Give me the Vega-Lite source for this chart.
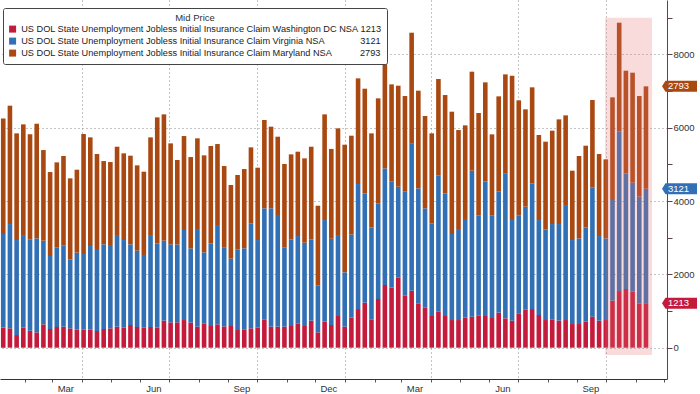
{
  "$schema": "https://vega.github.io/schema/vega-lite/v6.json",
  "width": 667,
  "height": 379,
  "autosize": {"type": "none"},
  "padding": {"left": 0, "top": 0, "right": 33, "bottom": 15},
  "background": "white",
  "config": {
    "view": {"stroke": null},
    "font": "Liberation Sans",
    "legend": {"labelFont": "Liberation Sans", "titleFont": "Liberation Sans"},
    "axis": {"labelFont": "Liberation Sans"}
  },
  "datasets": {
    "claims": [
      {"d": "2024-01-06", "Washington": 550, "Virginia": 2550, "Maryland": 3150},
      {"d": "2024-01-13", "Washington": 527, "Virginia": 2845, "Maryland": 3228},
      {"d": "2024-01-20", "Washington": 345, "Virginia": 2591, "Maryland": 2909},
      {"d": "2024-01-27", "Washington": 545, "Virginia": 2527, "Maryland": 3018},
      {"d": "2024-02-03", "Washington": 464, "Virginia": 2490, "Maryland": 2864},
      {"d": "2024-02-10", "Washington": 418, "Virginia": 2563, "Maryland": 3127},
      {"d": "2024-02-17", "Washington": 636, "Virginia": 2282, "Maryland": 2472},
      {"d": "2024-02-24", "Washington": 509, "Virginia": 1991, "Maryland": 2290},
      {"d": "2024-03-02", "Washington": 564, "Virginia": 2163, "Maryland": 2327},
      {"d": "2024-03-09", "Washington": 573, "Virginia": 2209, "Maryland": 2445},
      {"d": "2024-03-16", "Washington": 527, "Virginia": 1882, "Maryland": 2209},
      {"d": "2024-03-23", "Washington": 491, "Virginia": 2100, "Maryland": 2263},
      {"d": "2024-03-30", "Washington": 491, "Virginia": 2063, "Maryland": 3273},
      {"d": "2024-04-06", "Washington": 491, "Virginia": 2281, "Maryland": 2964},
      {"d": "2024-04-13", "Washington": 455, "Virginia": 2236, "Maryland": 2590},
      {"d": "2024-04-20", "Washington": 509, "Virginia": 2309, "Maryland": 2272},
      {"d": "2024-04-27", "Washington": 527, "Virginia": 2273, "Maryland": 2263},
      {"d": "2024-05-04", "Washington": 573, "Virginia": 2499, "Maryland": 2409},
      {"d": "2024-05-11", "Washington": 545, "Virginia": 2391, "Maryland": 2364},
      {"d": "2024-05-18", "Washington": 618, "Virginia": 2200, "Maryland": 2418},
      {"d": "2024-05-25", "Washington": 564, "Virginia": 2081, "Maryland": 2327},
      {"d": "2024-06-01", "Washington": 545, "Virginia": 1982, "Maryland": 2273},
      {"d": "2024-06-08", "Washington": 564, "Virginia": 2508, "Maryland": 2664},
      {"d": "2024-06-15", "Washington": 545, "Virginia": 2300, "Maryland": 3436},
      {"d": "2024-06-22", "Washington": 736, "Virginia": 2182, "Maryland": 3445},
      {"d": "2024-06-29", "Washington": 691, "Virginia": 2127, "Maryland": 2754},
      {"d": "2024-07-06", "Washington": 691, "Virginia": 2127, "Maryland": 2300},
      {"d": "2024-07-13", "Washington": 754, "Virginia": 2455, "Maryland": 2563},
      {"d": "2024-07-20", "Washington": 682, "Virginia": 2027, "Maryland": 2490},
      {"d": "2024-07-27", "Washington": 573, "Virginia": 2663, "Maryland": 2473},
      {"d": "2024-08-03", "Washington": 664, "Virginia": 1936, "Maryland": 2645},
      {"d": "2024-08-10", "Washington": 591, "Virginia": 2254, "Maryland": 2655},
      {"d": "2024-08-17", "Washington": 636, "Virginia": 2709, "Maryland": 2209},
      {"d": "2024-08-24", "Washington": 580, "Virginia": 2160, "Maryland": 2214},
      {"d": "2024-08-31", "Washington": 591, "Virginia": 1836, "Maryland": 2009},
      {"d": "2024-09-07", "Washington": 482, "Virginia": 2200, "Maryland": 2027},
      {"d": "2024-09-14", "Washington": 500, "Virginia": 2209, "Maryland": 2163},
      {"d": "2024-09-21", "Washington": 527, "Virginia": 2864, "Maryland": 2072},
      {"d": "2024-09-28", "Washington": 545, "Virginia": 2391, "Maryland": 1973},
      {"d": "2024-10-05", "Washington": 773, "Virginia": 3027, "Maryland": 2409},
      {"d": "2024-10-12", "Washington": 573, "Virginia": 3227, "Maryland": 2227},
      {"d": "2024-10-19", "Washington": 573, "Virginia": 3045, "Maryland": 2136},
      {"d": "2024-10-26", "Washington": 573, "Virginia": 2154, "Maryland": 2282},
      {"d": "2024-11-02", "Washington": 591, "Virginia": 2363, "Maryland": 2318},
      {"d": "2024-11-09", "Washington": 664, "Virginia": 2381, "Maryland": 2300},
      {"d": "2024-11-16", "Washington": 591, "Virginia": 2272, "Maryland": 2300},
      {"d": "2024-11-23", "Washington": 736, "Virginia": 2218, "Maryland": 2527},
      {"d": "2024-11-30", "Washington": 418, "Virginia": 1273, "Maryland": 2181},
      {"d": "2024-12-07", "Washington": 709, "Virginia": 2772, "Maryland": 2882},
      {"d": "2024-12-14", "Washington": 618, "Virginia": 2352, "Maryland": 2450},
      {"d": "2024-12-21", "Washington": 864, "Virginia": 2208, "Maryland": 2909},
      {"d": "2024-12-28", "Washington": 573, "Virginia": 1481, "Maryland": 3482},
      {"d": "2025-01-04", "Washington": 818, "Virginia": 2272, "Maryland": 2691},
      {"d": "2025-01-11", "Washington": 1054, "Virginia": 3409, "Maryland": 2882},
      {"d": "2025-01-18", "Washington": 1227, "Virginia": 2982, "Maryland": 2854},
      {"d": "2025-01-25", "Washington": 773, "Virginia": 2508, "Maryland": 2564},
      {"d": "2025-02-01", "Washington": 1327, "Virginia": 2609, "Maryland": 2864},
      {"d": "2025-02-08", "Washington": 1709, "Virginia": 3181, "Maryland": 3164},
      {"d": "2025-02-15", "Washington": 1636, "Virginia": 2891, "Maryland": 2654},
      {"d": "2025-02-22", "Washington": 1918, "Virginia": 2472, "Maryland": 2755},
      {"d": "2025-03-01", "Washington": 1427, "Virginia": 2827, "Maryland": 2609},
      {"d": "2025-03-08", "Washington": 1554, "Virginia": 4018, "Maryland": 3018},
      {"d": "2025-03-15", "Washington": 1209, "Virginia": 3136, "Maryland": 2664},
      {"d": "2025-03-22", "Washington": 1100, "Virginia": 2700, "Maryland": 2518},
      {"d": "2025-03-29", "Washington": 864, "Virginia": 2527, "Maryland": 2454},
      {"d": "2025-04-05", "Washington": 982, "Virginia": 3708, "Maryland": 2637},
      {"d": "2025-04-12", "Washington": 864, "Virginia": 3345, "Maryland": 2681},
      {"d": "2025-04-19", "Washington": 754, "Virginia": 2346, "Maryland": 3336},
      {"d": "2025-04-26", "Washington": 754, "Virginia": 2482, "Maryland": 2700},
      {"d": "2025-05-03", "Washington": 818, "Virginia": 2691, "Maryland": 2554},
      {"d": "2025-05-10", "Washington": 845, "Virginia": 3982, "Maryland": 2700},
      {"d": "2025-05-17", "Washington": 882, "Virginia": 2718, "Maryland": 2800},
      {"d": "2025-05-24", "Washington": 864, "Virginia": 3663, "Maryland": 2709},
      {"d": "2025-05-31", "Washington": 809, "Virginia": 2791, "Maryland": 2218},
      {"d": "2025-06-07", "Washington": 954, "Virginia": 3300, "Maryland": 2600},
      {"d": "2025-06-14", "Washington": 800, "Virginia": 3954, "Maryland": 2700},
      {"d": "2025-06-21", "Washington": 736, "Virginia": 2745, "Maryland": 3937},
      {"d": "2025-06-28", "Washington": 936, "Virginia": 2664, "Maryland": 3145},
      {"d": "2025-07-05", "Washington": 1045, "Virginia": 2800, "Maryland": 2655},
      {"d": "2025-07-12", "Washington": 1054, "Virginia": 3427, "Maryland": 2619},
      {"d": "2025-07-19", "Washington": 891, "Virginia": 2590, "Maryland": 2319},
      {"d": "2025-07-26", "Washington": 754, "Virginia": 2473, "Maryland": 2391},
      {"d": "2025-08-02", "Washington": 773, "Virginia": 2599, "Maryland": 2546},
      {"d": "2025-08-09", "Washington": 736, "Virginia": 2636, "Maryland": 2855},
      {"d": "2025-08-16", "Washington": 754, "Virginia": 3136, "Maryland": 2446},
      {"d": "2025-08-23", "Washington": 645, "Virginia": 2291, "Maryland": 1891},
      {"d": "2025-08-30", "Washington": 645, "Virginia": 2336, "Maryland": 2246},
      {"d": "2025-09-06", "Washington": 709, "Virginia": 2572, "Maryland": 2228},
      {"d": "2025-09-13", "Washington": 845, "Virginia": 3518, "Maryland": 2391},
      {"d": "2025-09-20", "Washington": 736, "Virginia": 2309, "Maryland": 2236},
      {"d": "2025-09-27", "Washington": 754, "Virginia": 2227, "Maryland": 2155},
      {"d": "2025-10-04", "Washington": 1282, "Virginia": 2745, "Maryland": 2800},
      {"d": "2025-10-11", "Washington": 1545, "Virginia": 4345, "Maryland": 2973},
      {"d": "2025-10-18", "Washington": 1600, "Virginia": 3154, "Maryland": 2800},
      {"d": "2025-10-25", "Washington": 1527, "Virginia": 2973, "Maryland": 3000},
      {"d": "2025-11-01", "Washington": 1209, "Virginia": 2909, "Maryland": 2745},
      {"d": "2025-11-08", "Washington": 1213, "Virginia": 3121, "Maryland": 2793}
    ],
    "highlight": [
      {"start": "2025-09-30", "end": "2025-11-18", "lo": -200, "hi": 9000}
    ]
  },
  "layer": [
    {
      "data": {"name": "claims"},
      "transform": [
        {"fold": ["Washington", "Virginia", "Maryland"], "as": ["series", "value"]},
        {"stack": "value", "groupby": ["d"], "sort": [{"field": "series", "order": "descending"}], "as": ["y0", "y1"]}
      ],
      "mark": {"type": "bar", "width": 4.6, "xOffset": 3.5, "clip": true},
      "encoding": {
        "x": {
          "field": "d", "type": "temporal", "title": null,
          "scale": {"type": "utc", "domain": [
            {"year": 2024, "month": 1, "date": 11, "hours": 12, "utc": true},
            {"year": 2025, "month": 11, "date": 28, "hours": 10, "utc": true}
          ]},
          "axis": {
            "tickCount": {"interval": "month", "step": 1},
            "grid": true,
            "gridDash": [1, 3],
            "gridColor": "#8a8a8a",
            "gridOpacity": {"condition": {"test": "utcmonth(datum.value) % 3 == 0", "value": 1}, "value": 0},
            "labelExpr": "(utcmonth(datum.value) % 3 == 2 && utcyear(datum.value) * 12 + utcmonth(datum.value) < 2025 * 12 + 10) ? utcFormat(datum.value, '%b') : ''",
            "labelOffset": 13,
            "labelOverlap": false,
            "labelFlush": false,
            "labelBound": false,
            "labelPadding": 1,
            "labelFontSize": 9.5,
            "labelColor": "#333",
            "tickSize": 3,
            "tickColor": "#555",
            "domainColor": "#333"
          }
        },
        "y": {
          "field": "y0", "type": "quantitative", "title": null,
          "scale": {"domain": [-854, 9482], "nice": false, "zero": false},
          "axis": {
            "orient": "right",
            "values": [0, 1000, 2000, 3000, 4000, 5000, 6000, 7000, 8000, 9000],
            "labelExpr": "datum.value % 2000 == 0 ? format(datum.value, 'd') : ''",
            "grid": true,
            "gridDash": [1, 3],
            "gridColor": "#8a8a8a",
            "gridOpacity": {"condition": {"test": "datum.value % 2000 == 0", "value": 1}, "value": 0},
            "tickSize": 5,
            "tickColor": "#5b4646",
            "domainColor": "#5b4646",
            "labelPadding": 1,
            "labelFontSize": 9.5,
            "labelColor": "#333",
            "labelOverlap": false
          }
        },
        "y2": {"field": "y1"},
        "color": {
          "field": "series", "type": "nominal",
          "scale": {"domain": ["Washington", "Virginia", "Maryland"], "range": ["#c41a3b", "#3270b5", "#aa4812"]},
          "legend": {
            "orient": "none", "legendX": 3, "legendY": 8,
            "title": "Mid Price", "titleAnchor": "middle", "titleFontWeight": "normal",
            "titleFontSize": 9.5, "titleColor": "#333", "titlePadding": 2,
            "labelFontSize": 9.2, "labelColor": "#222", "labelLimit": 500, "labelOffset": 4,
            "symbolType": "square", "symbolSize": 49, "symbolStrokeWidth": 0, "symbolOpacity": 1,
            "padding": 5, "rowPadding": 2, "strokeColor": "#444", "fillColor": "white", "cornerRadius": 2,
            "labelExpr": "datum.label == 'Washington' ? 'US DOL State Unemployment Jobless Initial Insurance Claim Washington DC NSA\u00a01213' : datum.label == 'Virginia' ? 'US DOL State Unemployment Jobless Initial Insurance Claim Virginia NSA\u00a0\u00a0\u00a0\u00a0\u00a0\u00a0\u00a0\u00a0\u00a0\u00a0\u00a0\u00a0\u00a0\u00a03121' : 'US DOL State Unemployment Jobless Initial Insurance Claim Maryland NSA\u00a0\u00a0\u00a0\u00a0\u00a0\u00a0\u00a0\u00a0\u00a0\u00a0\u00a02793'"
          }
        }
      }
    },
    {
      "data": {"name": "highlight"},
      "mark": {"type": "rect", "color": "#e87070", "opacity": 0.25},
      "encoding": {
        "x": {"field": "start", "type": "temporal"},
        "x2": {"field": "end"},
        "y": {"field": "hi", "type": "quantitative"},
        "y2": {"field": "lo"}
      }
    },
    {
      "data": {"name": "claims"},
      "transform": [
        {"fold": ["Washington", "Virginia", "Maryland"], "as": ["series", "value"]},
        {"stack": "value", "groupby": ["d"], "sort": [{"field": "series", "order": "descending"}], "as": ["y0", "y1"]},
        {"filter": {"field": "d", "equal": {"year": 2025, "month": 11, "date": 8, "utc": true}}}
      ],
      "mark": {"type": "point", "shape": "M 0 0 L 0.35 -0.55 L 3.5 -0.55 L 3.5 0.55 L 0.35 0.55 Z", "size": 400, "filled": true, "opacity": 1, "strokeWidth": 0},
      "encoding": {
        "x": {"datum": {"year": 2025, "month": 11, "date": 28, "hours": 10, "utc": true}, "type": "temporal"},
        "y": {"field": "y1", "type": "quantitative"},
        "fill": {
          "field": "series", "type": "nominal", "legend": null,
          "scale": {"domain": ["Washington", "Virginia", "Maryland"], "range": ["#c41a3b", "#3270b5", "#aa4812"]}
        }
      }
    },
    {
      "data": {"name": "claims"},
      "transform": [
        {"fold": ["Washington", "Virginia", "Maryland"], "as": ["series", "value"]},
        {"stack": "value", "groupby": ["d"], "sort": [{"field": "series", "order": "descending"}], "as": ["y0", "y1"]},
        {"filter": {"field": "d", "equal": {"year": 2025, "month": 11, "date": 8, "utc": true}}}
      ],
      "mark": {"type": "text", "align": "left", "baseline": "middle", "dx": 6, "fontSize": 9.5, "color": "white"},
      "encoding": {
        "x": {"datum": {"year": 2025, "month": 11, "date": 28, "hours": 10, "utc": true}, "type": "temporal"},
        "y": {"field": "y1", "type": "quantitative"},
        "text": {"field": "value", "type": "quantitative", "format": "d"}
      }
    }
  ]
}
